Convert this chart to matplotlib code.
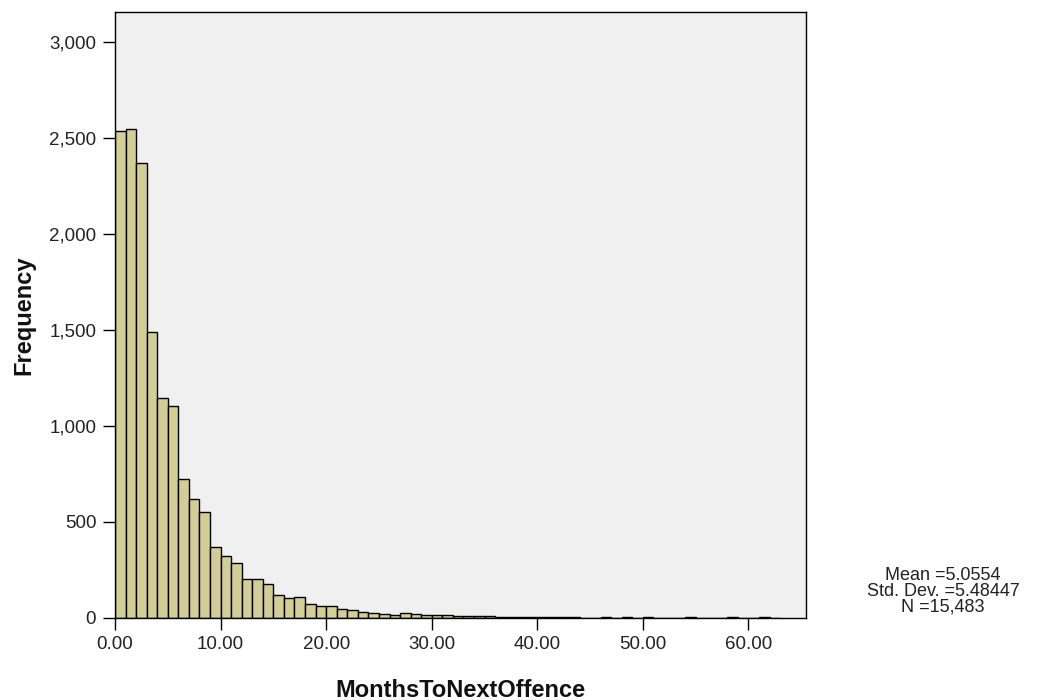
import matplotlib
matplotlib.use("Agg")
import matplotlib.pyplot as plt
from matplotlib.ticker import FuncFormatter
import numpy as np

# Monthly bin counts for months to next offence (1-month bins starting at 0)
bin_starts = list(range(0, 63))
counts = [
    2535, 2548, 2370, 1488, 1146, 1100, 720, 620, 550, 370,
    320, 286, 202, 202, 175, 119, 102, 109, 70, 62,
    58, 42, 40, 30, 26, 16, 13, 24, 18, 14,
    14, 11, 10, 8, 7, 6, 5, 5, 4, 3,
    3, 2, 2, 2, 0, 0, 2, 0, 2, 0,
    2, 0, 0, 0, 2, 0, 0, 0, 2, 0,
    0, 2, 0,
]
stats_lines = ["Mean =5.0554", "Std. Dev. =5.48447", "N =15,483"]
x_ticks = [0, 10, 20, 30, 40, 50, 60]
y_ticks = [0, 500, 1000, 1500, 2000, 2500, 3000]

plt.rcParams["font.family"] = ["Liberation Sans", "DejaVu Sans"]

W, H = 1037, 700
fig = plt.figure(figsize=(W / 100, H / 100), dpi=100, facecolor="white")
ax = fig.add_axes([115 / W, 1 - 617.5 / H, 690.5 / W, 605.5 / H])
ax.set_facecolor("#f0f0f0")

ax.bar(bin_starts, counts, width=1.0, align="edge",
       color="#d3ce97", edgecolor="black", linewidth=1.0)

ax.set_xlim(0, 65.4)
ax.set_ylim(0, 3156)
ax.set_xticks(x_ticks)
ax.set_yticks(y_ticks)
ax.xaxis.set_major_formatter(FuncFormatter(lambda v, _: f"{v:.2f}"))
ax.yaxis.set_major_formatter(FuncFormatter(lambda v, _: f"{int(v):,}"))
ax.tick_params(direction="out", length=8.5, width=1.0, labelsize=13.5,
               colors="black", labelcolor="#222222")
ax.tick_params(axis="x", pad=5)
ax.tick_params(axis="y", pad=5)

for side in ["top", "right", "bottom", "left"]:
    ax.spines[side].set_color("black")
    ax.spines[side].set_linewidth(1.0)

# axis titles placed in pixel terms
fig.text(460 / W, 1 - 697 / H, "MonthsToNextOffence", ha="center",
         va="baseline", fontsize=17, fontweight="bold", color="#111111")
fig.text(24 / W, 1 - 315 / H, "Frequency", rotation=90, ha="center",
         va="center", fontsize=17, fontweight="bold", color="#111111")

# summary statistics block, one text object with tight line spacing
fig.text(943 / W, 1 - 591 / H, "\n".join(stats_lines), ha="center",
         va="center", multialignment="center", fontsize=13,
         linespacing=0.92, color="#222222")

fig.savefig("out.png", dpi=100, facecolor="white")
